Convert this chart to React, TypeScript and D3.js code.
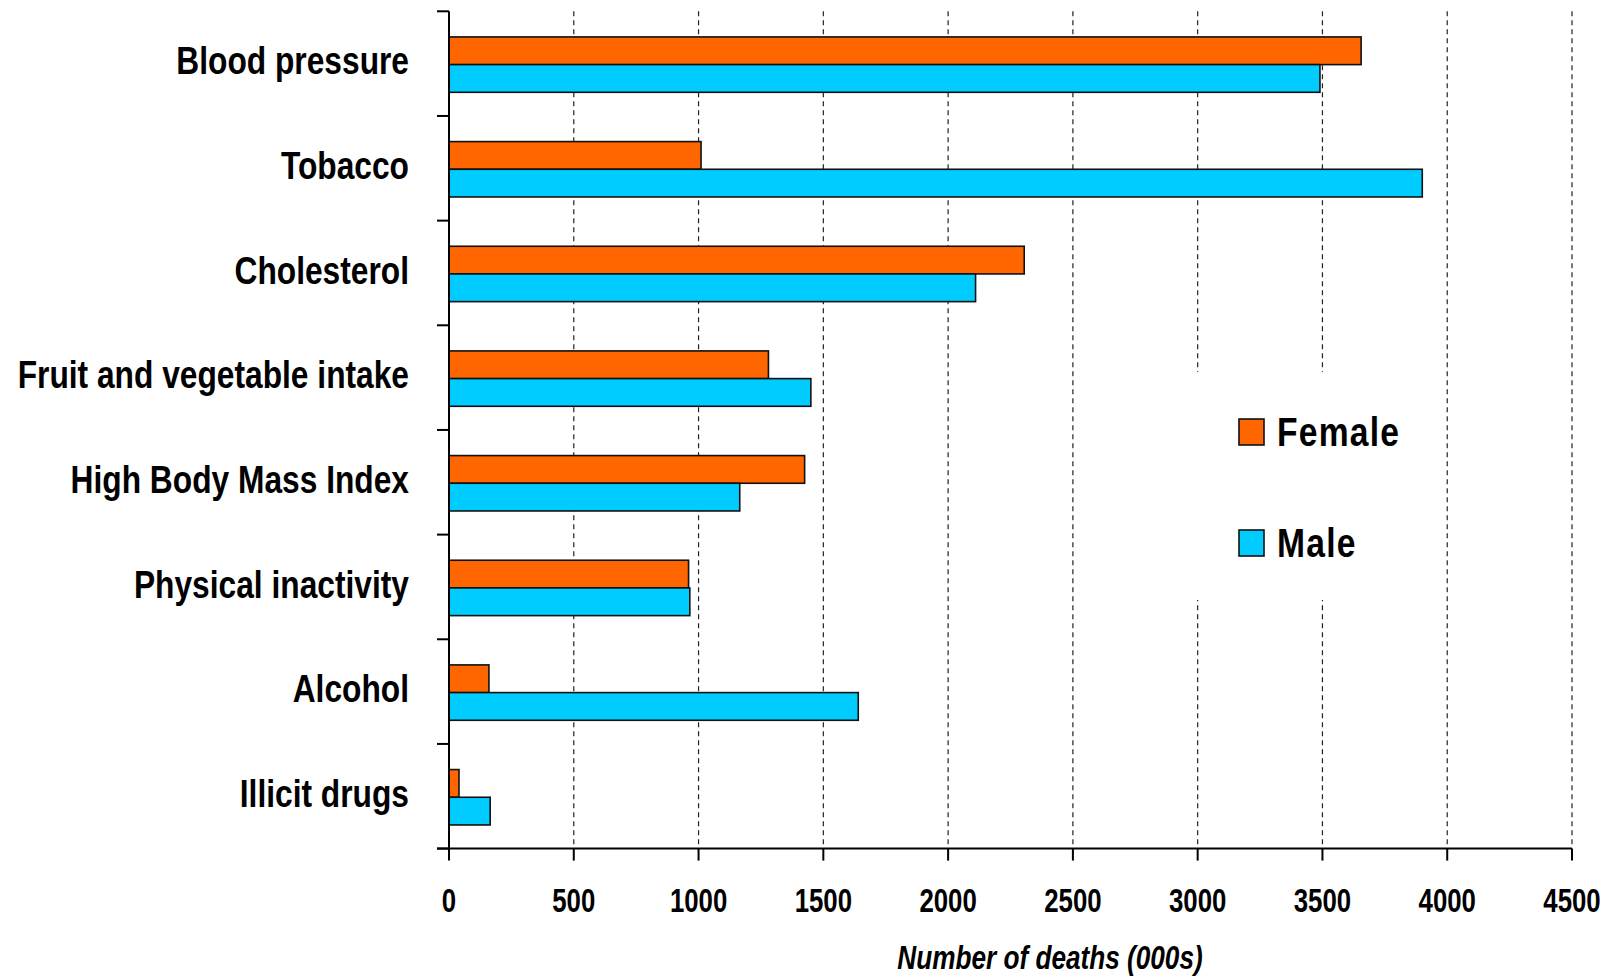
import React from "react";
import * as d3 from "d3";

const categories = [
  "Blood pressure",
  "Tobacco",
  "Cholesterol",
  "Fruit and vegetable intake",
  "High Body Mass Index",
  "Physical inactivity",
  "Alcohol",
  "Illicit drugs",
];
const female = [3655, 1010, 2305, 1280, 1425, 960, 160, 40];
const male = [3490, 3900, 2110, 1450, 1165, 965, 1640, 165];
const seriesNames = ["Female", "Male"];
const seriesColors = ["#FF6600", "#00CCFF"];
const xTicks = [0, 500, 1000, 1500, 2000, 2500, 3000, 3500, 4000, 4500];
const axisTitle = "Number of deaths (000s)";

const W = 1607;
const H = 977;
const FONT = "'Liberation Sans', Arial, sans-serif";

export default function App() {
  const x = d3.scaleLinear().domain([0, 4500]).range([449, 1572]);
  const y = d3.scaleBand<string>().domain(categories).range([11.3, 848.6]).padding(0);
  const inner = d3
    .scaleBand<string>()
    .domain(seriesNames)
    .range([0, y.bandwidth()])
    .paddingInner(0)
    .paddingOuter(0.89)
    .align(0.52);
  const series = [female, male];
  const yTop = y.range()[0];
  const yBot = y.range()[1];
  const x0 = x(0);
  const boundaries = categories.map((c) => y(c) as number).concat([yBot]);

  return (
    <svg
      width={W}
      height={H}
      style={{ position: "absolute", left: 0, top: 0, background: "#fff" }}
    >
      <rect x={0} y={0} width={W} height={H} fill="#fff" />
      {xTicks.slice(1).map((t) => (
        <line
          key={"g" + t}
          x1={x(t)}
          x2={x(t)}
          y1={yTop}
          y2={yBot}
          stroke="#222"
          strokeWidth={1.2}
          strokeDasharray="5,4"
        />
      ))}
      <rect x={1185} y={372} width={225} height={228} fill="#fff" />
      {categories.map((c, i) => (
        <g key={c}>
          {series.map((s, j) => (
            <rect
              key={j}
              x={x0}
              y={(y(c) as number) + (inner(seriesNames[j]) as number)}
              width={x(s[i]) - x0}
              height={inner.bandwidth()}
              fill={seriesColors[j]}
              stroke="#111"
              strokeWidth={1.6}
            />
          ))}
        </g>
      ))}
      <line x1={x0} x2={x0} y1={yTop} y2={yBot} stroke="#000" strokeWidth={2} />
      {boundaries.map((b, i) => (
        <line key={"yt" + i} x1={x0 - 12} x2={x0} y1={b} y2={b} stroke="#000" strokeWidth={2} />
      ))}
      <line x1={x0 - 12} x2={x(4500)} y1={yBot} y2={yBot} stroke="#000" strokeWidth={2} />
      {xTicks.map((t) => (
        <line key={"xt" + t} x1={x(t)} x2={x(t)} y1={yBot} y2={yBot + 12} stroke="#000" strokeWidth={2} />
      ))}
      {xTicks.map((t) => (
        <g key={"xl" + t} transform={`translate(${x(t)},${yBot + 63.7}) scale(0.77,1)`}>
          <text textAnchor="middle" fontFamily={FONT} fontWeight="bold" fontSize={33.5} fill="#000">
            {t}
          </text>
        </g>
      ))}
      {categories.map((c) => (
        <g
          key={"cl" + c}
          transform={`translate(409,${(y(c) as number) + y.bandwidth() / 2 + 10.7}) scale(0.82,1)`}
        >
          <text textAnchor="end" fontFamily={FONT} fontWeight="bold" fontSize={38.7} fill="#000">
            {c}
          </text>
        </g>
      ))}
      <g transform={`translate(1050,969) scale(0.77,1)`}>
        <text textAnchor="middle" fontFamily={FONT} fontWeight="bold" fontStyle="italic" fontSize={34} fill="#000">
          {axisTitle}
        </text>
      </g>
      {seriesNames.map((n, j) => (
        <g key={"lg" + n} transform={`translate(1239,${419 + j * 111})`}>
          <rect x={0} y={0} width={25} height={26} fill={seriesColors[j]} stroke="#111" strokeWidth={1.6} />
          <g transform={`translate(38,27) scale(0.82,1)`}>
            <text fontFamily={FONT} fontWeight="bold" fontSize={41} fill="#000" letterSpacing={1.5}>
              {n}
            </text>
          </g>
        </g>
      ))}
    </svg>
  );
}
